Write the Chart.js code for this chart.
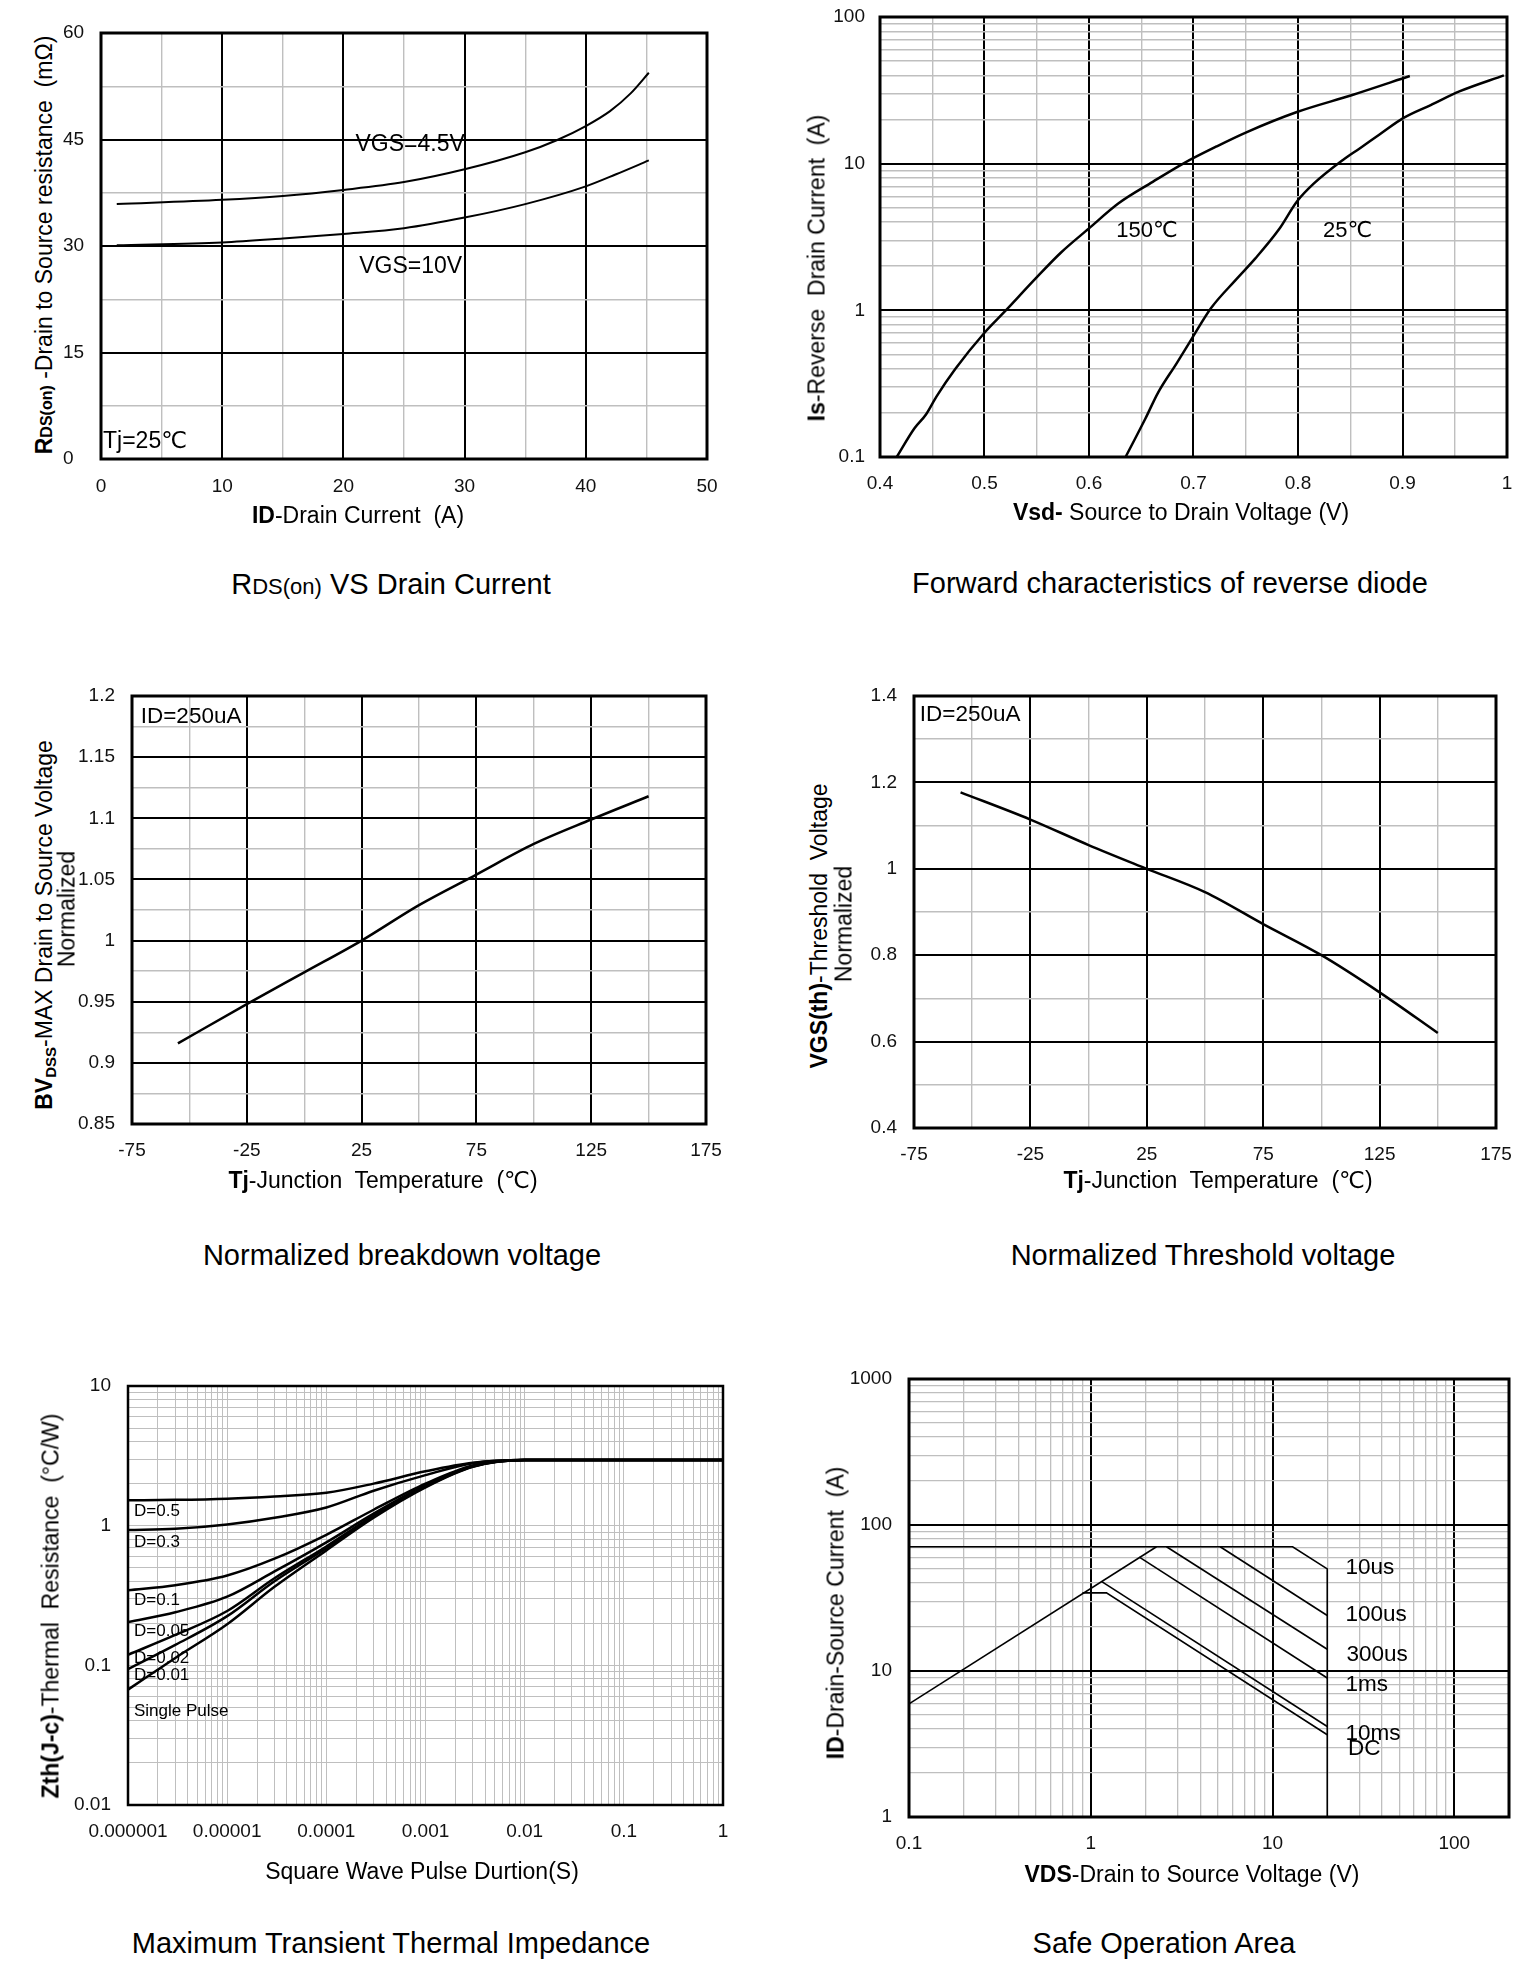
<!DOCTYPE html>
<html><head><meta charset="utf-8">
<script src="https://cdn.jsdelivr.net/npm/chart.js@4/dist/chart.umd.min.js"></script>
<style>
html,body{margin:0;padding:0;background:#fff;}
#page{position:relative;width:1535px;height:1987px;overflow:hidden;background:#fff;font-family:'Liberation Sans',Arial,Helvetica,'DejaVu Sans',sans-serif;color:#000;}
canvas{position:absolute;z-index:1;}
.t,.v{position:absolute;white-space:pre;line-height:1;z-index:2;}
.t{transform:translate(-50%,-50%);}
.v{transform:translate(-50%,-50%) rotate(-90deg);}
.cap{font-size:29px;}
.ax{font-size:23px;}
sub{font-size:15px;vertical-align:-4px;}
</style></head>
<body><div id="page">
<div class="t cap" style="left:391px;top:584px">R<span style="font-size:22px">DS(on)</span> VS Drain Current</div>
<div class="t cap" style="left:1170px;top:583px">Forward characteristics of reverse diode</div>
<div class="t cap" style="left:402px;top:1255px">Normalized breakdown voltage</div>
<div class="t cap" style="left:1203px;top:1255px">Normalized Threshold voltage</div>
<div class="t cap" style="left:391px;top:1943px">Maximum Transient Thermal Impedance</div>
<div class="t cap" style="left:1164px;top:1943px">Safe Operation Area</div>

<div class="t ax" style="left:358px;top:515px"><b>ID</b>-Drain Current  (A)</div>
<div class="v ax" style="left:44px;top:245px"><b>R<span style="font-size:16px">DS(on)</span></b> -Drain to Source resistance  (mΩ)</div>

<div class="t ax" style="left:1181px;top:512px"><b>Vsd-</b> Source to Drain Voltage (V)</div>
<div class="v ax" style="left:817px;top:268px"><b>Is</b>-Reverse  Drain Current  (A)</div>

<div class="t ax" style="left:383px;top:1180px"><b>Tj</b>-Junction  Temperature  (℃)</div>
<div class="v ax" style="left:45px;top:925px"><b>BV<sub>DSS</sub></b>-MAX Drain to Source Voltage</div>
<div class="v ax" style="left:67px;top:909px">Normalized</div>

<div class="t ax" style="left:1218px;top:1180px"><b>Tj</b>-Junction  Temperature  (℃)</div>
<div class="v ax" style="left:819px;top:926px"><b>VGS(th)</b>-Threshold  Voltage</div>
<div class="v ax" style="left:844px;top:924px">Normalized</div>

<div class="t ax" style="left:422px;top:1871px">Square Wave Pulse Durtion(S)</div>
<div class="v ax" style="left:51px;top:1606px"><b>Zth(J-c)</b>-Thermal  Resistance  (°C/W)</div>

<div class="t ax" style="left:1192px;top:1874px"><b>VDS</b>-Drain to Source Voltage (V)</div>
<div class="v ax" style="left:836px;top:1613px"><b>ID</b>-Drain-Source Current  (A)</div>
</div>
<script>
// ---------- DATA ----------
// Chart 1: RDS(on) vs drain current
const rdsXLabels = ['0','10','20','30','40','50'];
const rdsYLabels = ['0','15','30','45','60'];
const rdsCurrent45 = [1.3, 10, 15, 20, 25, 30, 35, 37.6, 40, 42, 43.7, 45.2];
const rdsVgs45 = [35.9, 36.5, 37.05, 37.9, 39.0, 40.8, 43.2, 44.9, 46.9, 49.0, 51.5, 54.4];
const rdsCurrent10 = [1.3, 10, 15, 20, 25, 30, 35, 40, 42.5, 45.2];
const rdsVgs10 = [30.1, 30.5, 31.05, 31.7, 32.5, 34.0, 35.9, 38.4, 40.1, 42.05];
const rdsTexts = ['VGS=4.5V', 'VGS=10V', 'Tj=25℃'];

// Chart 2: forward characteristics of reverse diode
const diodeXLabels = ['0.4','0.5','0.6','0.7','0.8','0.9','1'];
const diodeYLabels = ['0.1','1','10','100'];
const diodeV150 = [0.416, 0.433, 0.444, 0.454, 0.472, 0.500, 0.519, 0.549, 0.573, 0.600, 0.628, 0.661, 0.691, 0.722, 0.750, 0.799, 0.852, 0.907];
const diodeI150 = [0.1, 0.157, 0.195, 0.258, 0.398, 0.703, 0.975, 1.65, 2.47, 3.62, 5.35, 7.52, 10.1, 13.1, 16.3, 22.5, 29.4, 39.6];
const diodeV25 = [0.635, 0.654, 0.666, 0.684, 0.699, 0.717, 0.740, 0.759, 0.782, 0.799, 0.815, 0.843, 0.859, 0.878, 0.901, 0.927, 0.955, 0.997];
const diodeI25 = [0.1, 0.183, 0.274, 0.437, 0.652, 1.04, 1.60, 2.25, 3.58, 5.52, 7.3, 10.6, 12.7, 15.8, 20.5, 25.1, 31.2, 40.0];
const diodeTexts = ['150℃', '25℃'];

// Chart 3: normalized breakdown voltage
const tempXLabels = ['-75','-25','25','75','125','175'];
const bvYLabels = ['0.85','0.9','0.95','1','1.05','1.1','1.15','1.2'];
const bvTemp = [-55, -25, 0, 25, 50, 75, 100, 125, 150];
const bvNorm = [0.916, 0.948, 0.974, 1.0, 1.029, 1.054, 1.079, 1.099, 1.118];
const bvTexts = ['ID=250uA'];

// Chart 4: normalized threshold voltage
const vthYLabels = ['0.4','0.6','0.8','1','1.2','1.4'];
const vthTemp = [-55, -25, 0, 25, 50, 75, 100, 125, 150];
const vthNorm = [1.177, 1.114, 1.055, 1.0, 0.946, 0.872, 0.80, 0.714, 0.62];
const vthTexts = ['ID=250uA'];

// Chart 5: transient thermal impedance
const zthXLabels = ['0.000001','0.00001','0.0001','0.001','0.01','0.1','1'];
const zthYLabels = ['0.01','0.1','1','10'];
const zthTime = [1e-6, 3e-6, 1e-5, 3e-5, 1e-4, 3e-4, 1e-3, 3e-3, 1e-2, 1e-1, 1];
const zthD05 = [1.52, 1.53, 1.56, 1.62, 1.72, 2.0, 2.45, 2.82, 2.95, 2.95, 2.95];
const zthD03 = [0.93, 0.95, 1.02, 1.14, 1.35, 1.78, 2.3, 2.8, 2.95, 2.95, 2.95];
const zthD01 = [0.345, 0.375, 0.44, 0.58, 0.86, 1.3, 2.0, 2.7, 2.95, 2.95, 2.95];
const zthD005 = [0.204, 0.24, 0.31, 0.47, 0.76, 1.22, 1.95, 2.68, 2.95, 2.95, 2.95];
const zthD002 = [0.119, 0.165, 0.245, 0.42, 0.71, 1.18, 1.92, 2.66, 2.95, 2.95, 2.95];
const zthD001 = [0.094, 0.14, 0.225, 0.40, 0.69, 1.16, 1.9, 2.65, 2.95, 2.95, 2.95];
const zthSingle = [0.067, 0.113, 0.197, 0.365, 0.665, 1.14, 1.88, 2.64, 2.95, 2.95, 2.95];
const zthTexts = ['D=0.5', 'D=0.3', 'D=0.1', 'D=0.05', 'D=0.02', 'D=0.01', 'Single Pulse'];

// Chart 6: safe operation area
const soaXLabels = ['0.1','1','10','100'];
const soaYLabels = ['1','10','100','1000'];
const soaVRds = [0.1, 2.3];      const soaIRds = [5.95, 71];
const soaV10us = [0.1, 12.9, 20, 20]; const soaI10us = [71, 71, 50, 1];
const soaV100us = [5.15, 20];    const soaI100us = [71, 24.0];
const soaV300us = [2.61, 20];    const soaI300us = [71, 14.1];
const soaV1ms = [1.85, 20];      const soaI1ms = [60.3, 8.96];
const soaV10ms = [1.15, 20];     const soaI10ms = [40.9, 4.17];
const soaVDC = [0.9, 1.22, 20];  const soaIDC = [34.3, 34.3, 3.66];
const soaTexts = ['10us', '100us', '300us', '1ms', '10ms', 'DC'];

// ---------- RENDERING ----------
const page = document.getElementById('page');
const FONT = "'Liberation Sans', Arial, Helvetica, 'DejaVu Sans', sans-serif";
const GRAY = '#bfbfbf';
const TICK_SIZE = 19;

function logTicks(labels, max) {
  const d = labels.map(Number), out = [];
  for (let i = 0; i < d.length - 1; i++) for (let k = 1; k <= 9; k++) out.push(+(d[i] * k).toPrecision(6));
  const last = d[d.length - 1];
  out.push(last);
  if (max !== undefined) for (let k = 2; k <= 9 && last * k <= max + 1e-9; k++) out.push(+(last * k).toPrecision(6));
  return out;
}
function linTicks(labels, sub) {
  const v = labels.map(Number), out = [];
  for (let i = 0; i < v.length - 1; i++) for (let k = 0; k < sub; k++) out.push(+(v[i] + (v[i + 1] - v[i]) * k / sub).toPrecision(8));
  out.push(v[v.length - 1]);
  return out;
}

const framePlugin = {
  id: 'frame',
  afterDatasetsDraw(chart, args, opts) {
    const {ctx, chartArea: a, scales} = chart;
    ctx.save();
    (opts.labels || []).forEach(l => {
      ctx.font = l.font + 'px ' + FONT;
      ctx.fillStyle = '#000';
      ctx.textAlign = 'left';
      ctx.textBaseline = 'middle';
      const x = l.dx != null ? a.left + l.dx : scales.x.getPixelForValue(l.x);
      ctx.fillText(l.text, x, scales.y.getPixelForValue(l.y));
    });
    ctx.strokeStyle = '#000';
    ctx.lineWidth = opts.width;
    ctx.strokeRect(a.left, a.top, a.right - a.left, a.bottom - a.top);
    ctx.restore();
  }
};

function axis(spec, which, yAxisW, xAxisH) {
  const vals = spec.log ? logTicks(spec.labels, spec.max) : linTicks(spec.labels, spec.sub);
  const isLbl = v => spec.labels.find(l => Math.abs(Number(l) - v) <= 1e-9 * Math.max(1e-6, Math.abs(v)));
  const majCol = spec.allGray ? GRAY : '#000';
  return {
    type: spec.log ? 'logarithmic' : 'linear',
    min: Number(spec.labels[0]),
    max: spec.max !== undefined ? spec.max : Number(spec.labels[spec.labels.length - 1]),
    afterBuildTicks: s => { s.ticks = vals.map(v => ({value: v})); },
    afterFit: s => { if (which === 'x') s.height = xAxisH; else s.width = yAxisW; },
    grid: {
      drawTicks: false,
      color: c => (c.tick && isLbl(c.tick.value) !== undefined) ? majCol : GRAY,
      lineWidth: c => (c.tick && isLbl(c.tick.value) !== undefined) ? spec.majW : spec.minW
    },
    border: {display: false},
    ticks: {
      autoSkip: false, maxRotation: 0, minRotation: 0,
      padding: spec.pad, crossAlign: spec.cross || 'near',
      color: '#111', font: {family: FONT, size: TICK_SIZE},
      callback: v => { const l = isLbl(v); return l === undefined ? '' : l; }
    }
  };
}

function makeChart(o) {
  const padTop = 45, padRight = 55, xAxisH = 55;
  const [L, T, R, B] = o.rect;
  const w = R - L + o.yAxisW + padRight, h = B - T + padTop + xAxisH;
  const cv = document.createElement('canvas');
  cv.width = w; cv.height = h;
  cv.style.left = (L - o.yAxisW) + 'px'; cv.style.top = (T - padTop) + 'px';
  cv.style.width = w + 'px'; cv.style.height = h + 'px';
  page.appendChild(cv);
  new Chart(cv.getContext('2d'), {
    type: 'scatter',
    data: {
      datasets: o.series.map(d => ({
        data: d.xs.map((x, i) => ({x: x, y: d.ys[i]})),
        showLine: true, pointRadius: 0, fill: false,
        borderColor: '#000', borderWidth: o.lineWidth,
        cubicInterpolationMode: d.straight ? 'default' : 'monotone', tension: 0
      }))
    },
    options: {
      responsive: false, animation: false,
      layout: {padding: {top: padTop, right: padRight, left: 0, bottom: 0}},
      plugins: {legend: {display: false}, tooltip: {enabled: false},
        frame: {width: o.frame, labels: o.labels}},
      scales: {x: axis(o.x, 'x', o.yAxisW, xAxisH), y: axis(o.y, 'y', o.yAxisW, xAxisH)}
    },
    plugins: [framePlugin]
  });
}

// Chart 1
makeChart({
  rect: [101, 33, 707, 459], yAxisW: 38, lineWidth: 2, frame: 3,
  x: {labels: rdsXLabels, sub: 2, pad: 16, majW: 2, minW: 1.4},
  y: {labels: rdsYLabels, sub: 2, pad: 0, cross: 'far', majW: 2, minW: 1.4},
  series: [{xs: rdsCurrent45, ys: rdsVgs45}, {xs: rdsCurrent10, ys: rdsVgs10}],
  labels: [
    {text: rdsTexts[0], x: 21.0, y: 44.3, font: 23},
    {text: rdsTexts[1], x: 21.3, y: 27.05, font: 23},
    {text: rdsTexts[2], dx: 2, y: 2.5, font: 23}
  ]
});
// Chart 2
makeChart({
  rect: [880, 17, 1507, 457], yAxisW: 70, lineWidth: 2.5, frame: 3,
  x: {labels: diodeXLabels, sub: 2, pad: 15, majW: 2, minW: 1.4},
  y: {labels: diodeYLabels, log: true, pad: 15, majW: 2, minW: 1.4},
  series: [{xs: diodeV150, ys: diodeI150}, {xs: diodeV25, ys: diodeI25}],
  labels: [
    {text: diodeTexts[0], x: 0.626, y: 3.47, font: 22},
    {text: diodeTexts[1], x: 0.824, y: 3.47, font: 22}
  ]
});
// Chart 3
makeChart({
  rect: [132, 696, 706, 1124], yAxisW: 70, lineWidth: 2.5, frame: 3,
  x: {labels: tempXLabels, sub: 2, pad: 15, majW: 2, minW: 1.4},
  y: {labels: bvYLabels, sub: 2, pad: 17, majW: 2, minW: 1.4},
  series: [{xs: bvTemp, ys: bvNorm}],
  labels: [{text: bvTexts[0], x: -71.2, y: 1.183, font: 22.5}]
});
// Chart 4
makeChart({
  rect: [914, 696, 1496, 1128], yAxisW: 70, lineWidth: 2.5, frame: 3,
  x: {labels: tempXLabels, sub: 2, pad: 15, majW: 2, minW: 1.4},
  y: {labels: vthYLabels, sub: 2, pad: 17, majW: 2, minW: 1.4},
  series: [{xs: vthTemp, ys: vthNorm}],
  labels: [{text: vthTexts[0], x: -72.5, y: 1.356, font: 22.5}]
});
// Chart 5
makeChart({
  rect: [128, 1386, 723, 1805], yAxisW: 70, lineWidth: 2.5, frame: 2.5,
  x: {labels: zthXLabels, log: true, pad: 15, majW: 1, minW: 1, allGray: true},
  y: {labels: zthYLabels, log: true, pad: 17, majW: 1, minW: 1, allGray: true},
  series: [zthD05, zthD03, zthD01, zthD005, zthD002, zthD001, zthSingle].map(ys => ({xs: zthTime, ys: ys})),
  labels: [
    {text: zthTexts[0], dx: 6, y: 1.27, font: 17},
    {text: zthTexts[1], dx: 6, y: 0.755, font: 17},
    {text: zthTexts[2], dx: 6, y: 0.29, font: 17},
    {text: zthTexts[3], dx: 6, y: 0.175, font: 17},
    {text: zthTexts[4], dx: 6, y: 0.113, font: 17},
    {text: zthTexts[5], dx: 6, y: 0.0848, font: 17},
    {text: zthTexts[6], dx: 6, y: 0.0467, font: 17}
  ]
});
// Chart 6
makeChart({
  rect: [909, 1379, 1509, 1817], yAxisW: 70, lineWidth: 1.6, frame: 3,
  x: {labels: soaXLabels, log: true, max: 200, pad: 15, majW: 2, minW: 1.3},
  y: {labels: soaYLabels, log: true, pad: 17, majW: 2, minW: 1.3},
  series: [
    {xs: soaVRds, ys: soaIRds, straight: true},
    {xs: soaV10us, ys: soaI10us, straight: true},
    {xs: soaV100us, ys: soaI100us, straight: true},
    {xs: soaV300us, ys: soaI300us, straight: true},
    {xs: soaV1ms, ys: soaI1ms, straight: true},
    {xs: soaV10ms, ys: soaI10ms, straight: true},
    {xs: soaVDC, ys: soaIDC, straight: true}
  ],
  labels: [
    {text: soaTexts[0], x: 25.2, y: 51.3, font: 22.5},
    {text: soaTexts[1], x: 25.2, y: 24.3, font: 22.5},
    {text: soaTexts[2], x: 25.5, y: 12.9, font: 22.5},
    {text: soaTexts[3], x: 25.2, y: 8.07, font: 22.5},
    {text: soaTexts[4], x: 25.2, y: 3.71, font: 22.5},
    {text: soaTexts[5], x: 26.0, y: 2.92, font: 22.5}
  ]
});
</script>
</body></html>
